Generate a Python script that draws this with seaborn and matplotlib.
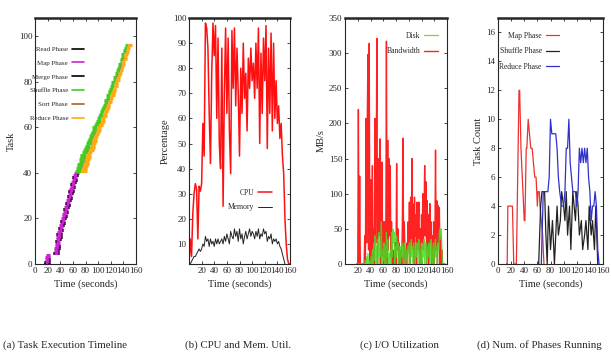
import numpy as np
import pandas as pd
import matplotlib
matplotlib.use("Agg")
import matplotlib.pyplot as plt
import seaborn as sns

# ---------------- (a) task execution timeline ----------------
map_start = [15, 15, 16, 16, 17,
             29, 30, 30, 31, 31, 32, 33, 33, 34, 35, 36, 37,
             38, 39, 40, 41, 42, 43, 44, 45, 46, 47, 48, 49,
             50, 51, 52, 53, 54, 55, 56, 57, 58, 59, 60, 62]
map_end = [22, 23, 23, 24, 24,
           38, 38, 39, 39, 40, 40, 41, 42, 42, 43, 44, 45,
           46, 47, 48, 49, 50, 51, 52, 53, 54, 55, 56, 57,
           58, 59, 60, 61, 62, 63, 64, 65, 66, 67, 68, 70]
read_len = 0.5
merge_len = 1.0

red_start = [64, 65, 66, 67, 69, 70, 71, 72, 75, 76, 78, 79, 81, 82, 84, 85,
             87, 88, 90, 91, 94, 95, 97, 98, 100, 101, 103, 104, 106, 107, 109, 110,
             112, 113, 115, 116, 118, 119, 120, 121, 123, 124, 126, 127,
             129, 130, 131, 132, 134, 135, 136, 137, 139, 140, 141, 142]
shuffle_len = [9, 9, 9, 9, 9, 8, 9, 8, 8, 9, 8, 8, 8, 8, 7, 8,
               7, 8, 7, 7, 7, 7, 7, 6, 7, 6, 6, 7, 6, 6, 6, 6,
               6, 6, 5, 6, 5, 6, 5, 5, 5, 5, 5, 5, 5, 5, 4, 5,
               4, 5, 4, 4, 4, 4, 4, 4]
reduce_len = [9, 8, 9, 9, 8, 9, 8, 9, 8, 8, 9, 8, 8, 8, 8, 7,
              8, 7, 8, 7, 7, 7, 7, 7, 7, 7, 6, 7, 7, 6, 7, 6,
              6, 7, 6, 6, 6, 6, 6, 6, 6, 6, 5, 6, 6, 5, 6, 5,
              5, 6, 5, 6, 6, 5, 6, 7]
sort_len = 0.6

# ---------------- (b) CPU / memory ----------------
cpu_t = list(range(0, 161, 2))
cpu = [2, 12, 5, 22, 30, 34, 32, 12, 33, 31, 34, 58, 45, 98, 96, 88, 62, 42, 78, 98,
       85, 97, 60, 92, 50, 40, 88, 25, 70, 96, 62, 92, 55, 38, 95, 72, 96, 65, 88, 70,
       45, 80, 62, 90, 68, 78, 55, 84, 72, 88, 75, 82, 68, 90, 72, 96, 50, 86, 62, 92,
       75, 97, 48, 88, 62, 94, 55, 90, 60, 75, 58, 65, 52, 58, 45, 38, 20, 10, 4, 2, 2]
memory = [1, 2, 3, 4, 5, 5, 6, 7, 8, 7, 8, 10, 9, 13, 11, 12, 9, 12, 10, 11,
          9, 12, 10, 12, 10, 11, 12, 10, 13, 11, 14, 12, 10, 15, 13, 12, 16, 13, 15, 11,
          16, 12, 14, 10, 13, 15, 12, 14, 16, 13, 15, 14, 12, 15, 13, 16, 12, 14, 13, 16,
          14, 15, 11, 13, 12, 14, 10, 12, 11, 12, 10, 11, 9, 8, 6, 4, 2, 1, 1, 0, 0]

# ---------------- (c) I/O utilisation ----------------
io_t = list(range(18, 158))
bandwidth = [0, 0, 0, 220, 0, 125, 0, 0, 0, 0,
             0, 0, 0, 40, 0, 207, 30, 210, 298, 20,
             314, 0, 120, 0, 60, 140, 0, 50, 0, 207,
             30, 150, 321, 0, 150, 40, 100, 178, 0, 60,
             145, 10, 60, 0, 60, 0, 40, 317, 0, 176,
             20, 150, 40, 140, 10, 60, 0, 20, 0, 0,
             0, 30, 0, 143, 20, 50, 0, 30, 0, 0,
             20, 0, 60, 179, 0, 60, 20, 0, 0, 30,
             0, 60, 20, 88, 0, 95, 30, 150, 20, 85,
             0, 95, 40, 70, 0, 88, 20, 60, 88, 0,
             50, 0, 70, 30, 100, 20, 70, 140, 40, 117,
             0, 90, 20, 70, 0, 86, 30, 60, 0, 40,
             0, 60, 0, 30, 162, 20, 90, 0, 83, 30,
             80, 0, 40, 0, 20, 0, 0, 0, 0, 0]
disk = [0] * 12 + [0, 0, 5, 0, 10, 0, 15, 0, 5, 0,
        0, 10, 0, 20, 0, 30, 5, 40, 0, 25,
        0, 35, 10, 45, 0, 30, 10, 60, 0, 20,
        5, 30, 0, 25, 0, 45, 10, 35, 0, 15,
        0, 20, 0, 45, 10, 50, 30, 45, 0, 25,
        10, 40, 20, 30, 0, 15, 25, 0, 20, 30,
        10, 25, 0, 30, 20, 0, 10, 20, 0, 25,
        15, 30, 0, 20, 35, 10, 25, 0, 30, 15,
        0, 25, 10, 30, 0, 20, 35, 10, 0, 20,
        30, 0, 25, 10, 35, 0, 20, 30, 10, 0,
        25, 10, 30, 0, 20, 35, 10, 0, 25, 30,
        0, 20, 35, 10, 25, 0, 30, 20, 45, 50,
        35, 50, 20, 0, 0, 0, 0, 0]

# ---------------- (d) number of phases running ----------------
map_t = [13, 14, 15, 22, 24, 28, 32, 33, 35, 38, 40, 41, 43, 44, 46, 48, 50, 52,
         54, 56, 58, 60, 61, 63, 64, 66, 68, 70]
map_cnt = [0, 0, 4, 4, 0, 0, 12, 12, 8, 5, 3, 3, 8, 8, 10, 9, 8, 8,
           7, 6, 6, 4, 5, 5, 4, 3, 2, 0]
sh_t = [62, 65, 67, 71, 73, 75, 77, 80, 83, 86, 88, 90, 92, 95, 97, 100, 102, 104,
        106, 109, 111, 114, 116, 118, 120, 122, 124, 127, 129, 132, 134, 137, 139,
        142, 144, 147, 149, 152]
sh_cnt = [0, 4, 5, 5, 2, 0, 4, 1, 3, 0, 2, 4, 2, 3, 5, 4, 3, 5,
          2, 4, 1, 5, 4, 3, 5, 4, 2, 3, 1, 2, 3, 1, 4,
          2, 3, 1, 4, 0]
rd_t = [66, 69, 72, 76, 78, 80, 82, 84, 88, 90, 92, 94, 97, 100, 102, 104, 106, 108,
        110, 112, 114, 116, 118, 120, 122, 124, 126, 128, 130, 132, 134, 136,
        138, 140, 142, 144, 146, 148, 150, 152, 154]
rd_cnt = [0, 5, 5, 5, 6, 10, 9, 9, 9, 8, 6, 5, 4, 4, 5, 8, 8, 10,
          7, 6, 5, 5, 5, 4, 5, 8, 7, 8, 7, 8, 7, 8,
          6, 5, 3, 4, 4, 5, 4, 1, 0]

captions = ["(a) Task Execution Timeline", "(b) CPU and Mem. Util.",
            "(c) I/O Utilization", "(d) Num. of Phases Running"]

sns.set_style("ticks")
plt.rcParams['font.family'] = ['Liberation Serif', 'DejaVu Serif']

fig = plt.figure(figsize=(6.11, 3.6), dpi=100)
W, H = 611.0, 360.0
boxes = [(35, 136), (189, 290), (345, 447), (498, 603)]
axes = []
for l, r in boxes:
    ax = fig.add_axes([l / W, 1 - 264 / H, (r - l) / W, 246 / H])
    axes.append(ax)

TICK = 6.5
LEG = dict(frameon=False, markerfirst=False, fontsize=5.5, handlelength=1.8,
           handletextpad=0.5, labelspacing=0.8, borderpad=0.0)
for ax in axes:
    ax.tick_params(direction='in', top=True, right=True, labelsize=TICK,
                   length=2.5, width=0.6, pad=2)
    for s in ['left', 'right', 'bottom']:
        ax.spines[s].set_linewidth(0.8)
    ax.spines['top'].set_linewidth(1.8)
    ax.set_xlim(0, 160)
    ax.set_xticks(range(0, 161, 20))

# (a)
ax = axes[0]
y_map = np.arange(len(map_start))
ms = np.array(map_start, float)
me = np.array(map_end, float)
ax.hlines(y_map, ms, me, color='#cc22d0', lw=2.2)
ax.hlines(y_map, ms, ms + read_len, color='black', lw=2.2)
ax.hlines(y_map, me - merge_len, me, color='black', lw=2.2)
y_red = np.arange(len(map_start), len(map_start) + len(red_start))
rs = np.array(red_start, float)
se = rs + np.array(shuffle_len, float)
re_ = se + np.array(reduce_len, float)
ax.hlines(y_red, rs, se, color='#44cc22', lw=2.3)
ax.hlines(y_red, se, se + sort_len, color='#b06020', lw=2.3)
ax.hlines(y_red, se + sort_len, re_, color='#ffaa10', lw=2.3)
ax.set_ylim(0, 108)
ax.set_yticks(range(0, 101, 20))
ax.set_ylabel("Task", fontsize=7.5, labelpad=2)
leg_items = [("Read Phase", 'black'), ("Map Phase", '#cc22d0'),
             ("Merge Phase", 'black'), ("Shuffle Phase", '#44cc22'),
             ("Sort Phase", '#b06020'), ("Reduce Phase", '#ffaa10')]
handles = [plt.Line2D([], [], color=c, lw=1.2) for _, c in leg_items]
ax.legend(handles, [n for n, _ in leg_items], loc='upper right',
          bbox_to_anchor=(0.52, 0.9), **dict(LEG, fontsize=5, labelspacing=1.15))

# (b)
ax = axes[1]
dfb = pd.DataFrame({"t": cpu_t, "CPU": cpu, "Memory": memory})
sns.lineplot(data=dfb, x="t", y="CPU", ax=ax, color='#ff1010', lw=1.1, label="CPU")
sns.lineplot(data=dfb, x="t", y="Memory", ax=ax, color='#222222', lw=0.7,
             label="Memory")
ax.set_ylim(2, 100)
ax.set_yticks(range(10, 101, 10))
ax.set_xticks(range(20, 161, 20))
ax.set_ylabel("Percentage", fontsize=7.5, labelpad=2)
ax.legend(loc='upper right', bbox_to_anchor=(0.86, 0.32), **LEG)

# (c)
ax = axes[2]
dfc = pd.DataFrame({"t": io_t, "Disk": disk, "Bandwidth": bandwidth})
sns.lineplot(data=dfc, x="t", y="Bandwidth", ax=ax, color='#ff2222', lw=1.0,
             label="Bandwidth", zorder=2)
sns.lineplot(data=dfc, x="t", y="Disk", ax=ax, color='#44dd22', lw=0.9,
             label="Disk", alpha=0.85, zorder=3)
ax.set_ylim(0, 350)
ax.set_yticks(range(0, 351, 50))
ax.set_xticks(range(20, 161, 20))
ax.set_ylabel("MB/s", fontsize=7.5, labelpad=2)
h, l = ax.get_legend_handles_labels()
ax.legend(h[::-1], l[::-1], loc='upper right', bbox_to_anchor=(0.95, 0.96),
          **dict(LEG, labelspacing=1.0))

# (d)
ax = axes[3]
sns.lineplot(x=map_t, y=map_cnt, ax=ax, color='#ee3030', lw=0.9, label="Map Phase")
sns.lineplot(x=sh_t, y=sh_cnt, ax=ax, color='#222222', lw=0.9, label="Shuffle Phase")
sns.lineplot(x=rd_t, y=rd_cnt, ax=ax, color='#3030cc', lw=0.9, label="Reduce Phase")
ax.set_ylim(0, 17)
ax.set_yticks(range(0, 17, 2))
ax.set_ylabel("Task Count", fontsize=7.5, labelpad=2)
ax.legend(loc='upper right', bbox_to_anchor=(0.62, 0.96),
          **dict(LEG, labelspacing=1.0))

for ax in axes:
    ax.set_xlabel("Time (seconds)", fontsize=7.5, labelpad=3)

cap_x = [3, 185, 360, 477]
for x, c in zip(cap_x, captions):
    fig.text(x / W, 1 - 345 / H, c, ha='left', va='center', fontsize=7.8)

fig.savefig("out.png", dpi=100)
